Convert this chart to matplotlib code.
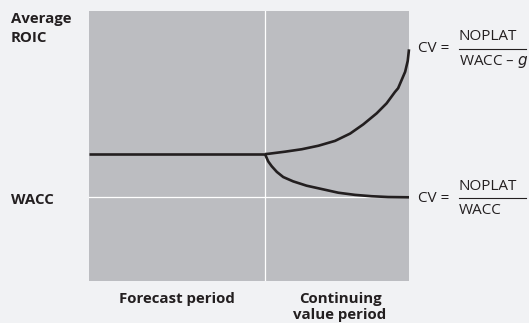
import matplotlib.pyplot as plt
from matplotlib.lines import Line2D

# values (x: time, y: ROIC, arbitrary units 0..10)
forecast_x = [0.0, 5.5]
forecast_y = [4.7, 4.7]

growth_x = [5.5, 5.6, 6.13, 6.65, 7.17, 7.69, 8.16, 8.57, 8.99, 9.30, 9.56, 9.66, 9.88, 9.96, 10.0]
growth_y = [4.7, 4.71, 4.79, 4.88, 5.01, 5.19, 5.46, 5.80, 6.21, 6.58, 7.0, 7.14, 7.75, 8.15, 8.58]

fade_x = [5.5, 5.53, 5.60, 5.71, 5.87, 6.07, 6.38, 6.80, 7.22, 7.79, 8.31, 8.83, 9.35, 10.0]
fade_y = [4.7, 4.62, 4.43, 4.25, 4.04, 3.85, 3.69, 3.53, 3.42, 3.27, 3.19, 3.14, 3.11, 3.1]

wacc = 3.1
split = 5.5

bg = "#f1f2f4"
panel = "#bcbdc1"
ink = "#231f20"

plt.rcParams["font.family"] = ["Open Sans", "DejaVu Sans"]

W, H = 529, 323
fig = plt.figure(figsize=(W / 100, H / 100), dpi=100, facecolor=bg)
ax = fig.add_axes([89 / W, 1 - 281 / H, 320 / W, 270 / H])
ax.set_facecolor(panel)
ax.set_xlim(0, 10)
ax.set_ylim(0, 10)
for s in ax.spines.values():
    s.set_visible(False)
ax.set_xticks([])
ax.set_yticks([])

ax.axvline(split, color="white", lw=0.9)
ax.axhline(wacc, color="white", lw=0.9)

ax.plot(forecast_x, forecast_y, color=ink, lw=1.9, solid_capstyle="butt")
ax.plot(growth_x, growth_y, color=ink, lw=1.9, solid_capstyle="butt", clip_on=False)
ax.plot(fade_x, fade_y, color=ink, lw=1.9, solid_capstyle="butt", clip_on=False)


def px(x, y):
    return x / W, 1 - y / H


fs = 10.8
fig.text(*px(11, 19), "Average", fontsize=fs, fontweight="bold", va="center", color=ink)
fig.text(*px(11, 38), "ROIC", fontsize=fs, fontweight="bold", va="center", color=ink)
fig.text(*px(11, 200), "WACC", fontsize=fs, fontweight="bold", va="center", color=ink)
fig.text(*px(177, 299), "Forecast period", fontsize=fs, fontweight="bold",
         ha="center", va="center", color=ink)
fig.text(*px(340, 299), "Continuing", fontsize=fs, fontweight="bold",
         ha="center", va="center", color=ink)
fig.text(*px(340, 315), "value period", fontsize=fs, fontweight="bold",
         ha="center", va="center", color=ink)

# continuing value formulas
ffs = 11
fig.text(*px(418, 49), "CV =", fontsize=ffs, va="center", color=ink)
fig.text(*px(459, 36), "NOPLAT", fontsize=ffs, va="center", color=ink)
fig.text(*px(459, 62), r"WACC – $\mathit{g}$", fontsize=ffs, va="center", color=ink)
fig.add_artist(Line2D([459 / W, 526 / W], [1 - 48.5 / H] * 2, color=ink, lw=0.8))

fig.text(*px(418, 199), "CV =", fontsize=ffs, va="center", color=ink)
fig.text(*px(459, 186), "NOPLAT", fontsize=ffs, va="center", color=ink)
fig.text(*px(459, 211), "WACC", fontsize=ffs, va="center", color=ink)
fig.add_artist(Line2D([459 / W, 526 / W], [1 - 198 / H] * 2, color=ink, lw=0.8))

fig.savefig("out.png", dpi=100, facecolor=bg)
